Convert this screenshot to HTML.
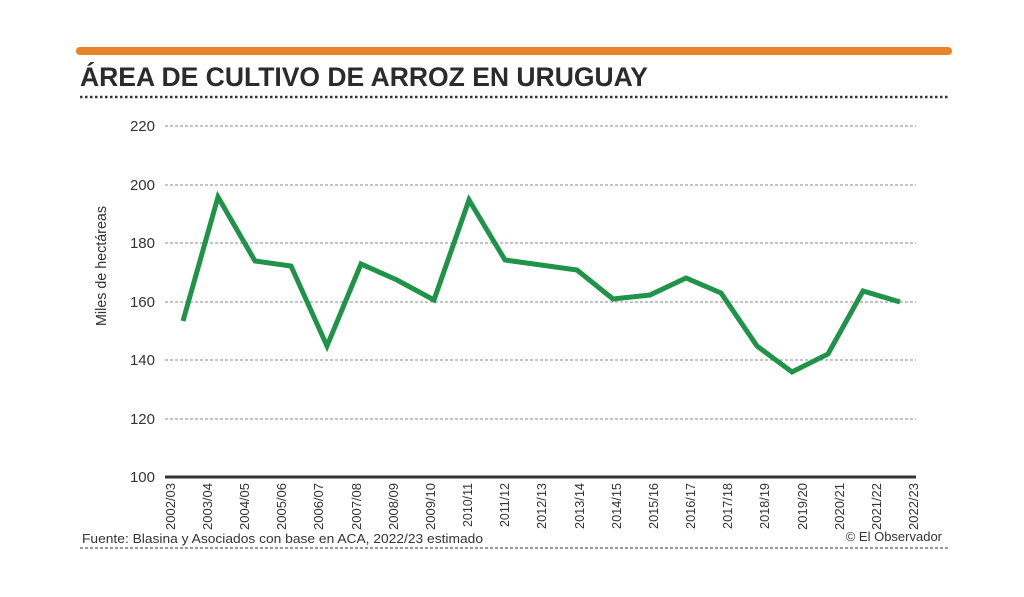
<!DOCTYPE html>
<html><head><meta charset="utf-8"><style>
body{margin:0;background:#fff;}
svg{display:block;font-family:"Liberation Sans",sans-serif;}
</style></head><body>
<svg width="1024" height="597" viewBox="0 0 1024 597">
<rect width="1024" height="597" fill="#fff"/>
<line x1="80" y1="51" x2="948" y2="51" stroke="#e8832a" stroke-width="8" stroke-linecap="round"/>
<text x="80" y="86" font-size="27" font-weight="bold" fill="#2b2b2b" textLength="568" lengthAdjust="spacingAndGlyphs">ÁREA DE CULTIVO DE ARROZ EN URUGUAY</text>
<line x1="80" y1="97" x2="948" y2="97" stroke="#333" stroke-width="2.5" stroke-dasharray="2.5,2.5"/>
<g stroke="#888" stroke-width="1" stroke-dasharray="3,2">
<line x1="165" y1="126" x2="916" y2="126"/>
<line x1="165" y1="185" x2="916" y2="185"/>
<line x1="165" y1="243" x2="916" y2="243"/>
<line x1="165" y1="302" x2="916" y2="302"/>
<line x1="165" y1="360" x2="916" y2="360"/>
<line x1="165" y1="419" x2="916" y2="419"/>
</g>
<line x1="165" y1="477" x2="916" y2="477" stroke="#333" stroke-width="3"/>
<g font-size="15" fill="#333" text-anchor="end">
<text x="155" y="131">220</text><text x="155" y="190">200</text><text x="155" y="248">180</text>
<text x="155" y="307">160</text><text x="155" y="365">140</text><text x="155" y="424">120</text><text x="155" y="482">100</text>
</g>
<text transform="translate(106,266) rotate(-90)" font-size="15" fill="#333" text-anchor="middle" textLength="120" lengthAdjust="spacingAndGlyphs">Miles de hectáreas</text>
<polyline fill="none" stroke="#1f9448" stroke-width="5" stroke-linejoin="miter" points="183,321 218,197 255,261 291,266 327,346 361,264 397,280 434,300 469,200 505,260 541,265 577,270 613,299 650,295 686,278 721,293 757,346 792,372 828,354 863,291 900,302"/>
<g font-size="13" fill="#333" text-anchor="end">
<text transform="translate(175,483) rotate(-90)" textLength="47" lengthAdjust="spacingAndGlyphs">2002/03</text>
<text transform="translate(212,483) rotate(-90)" textLength="47" lengthAdjust="spacingAndGlyphs">2003/04</text>
<text transform="translate(249,483) rotate(-90)" textLength="47" lengthAdjust="spacingAndGlyphs">2004/05</text>
<text transform="translate(286,483) rotate(-90)" textLength="47" lengthAdjust="spacingAndGlyphs">2005/06</text>
<text transform="translate(323,483) rotate(-90)" textLength="47" lengthAdjust="spacingAndGlyphs">2006/07</text>
<text transform="translate(361,483) rotate(-90)" textLength="47" lengthAdjust="spacingAndGlyphs">2007/08</text>
<text transform="translate(398,483) rotate(-90)" textLength="47" lengthAdjust="spacingAndGlyphs">2008/09</text>
<text transform="translate(435,483) rotate(-90)" textLength="47" lengthAdjust="spacingAndGlyphs">2009/10</text>
<text transform="translate(472,483) rotate(-90)" textLength="44" lengthAdjust="spacingAndGlyphs">2010/11</text>
<text transform="translate(509,483) rotate(-90)" textLength="44" lengthAdjust="spacingAndGlyphs">2011/12</text>
<text transform="translate(546,483) rotate(-90)" textLength="46" lengthAdjust="spacingAndGlyphs">2012/13</text>
<text transform="translate(584,483) rotate(-90)" textLength="46" lengthAdjust="spacingAndGlyphs">2013/14</text>
<text transform="translate(621,483) rotate(-90)" textLength="46" lengthAdjust="spacingAndGlyphs">2014/15</text>
<text transform="translate(658,483) rotate(-90)" textLength="46" lengthAdjust="spacingAndGlyphs">2015/16</text>
<text transform="translate(695,483) rotate(-90)" textLength="46" lengthAdjust="spacingAndGlyphs">2016/17</text>
<text transform="translate(732,483) rotate(-90)" textLength="46" lengthAdjust="spacingAndGlyphs">2017/18</text>
<text transform="translate(769,483) rotate(-90)" textLength="46" lengthAdjust="spacingAndGlyphs">2018/19</text>
<text transform="translate(807,483) rotate(-90)" textLength="47" lengthAdjust="spacingAndGlyphs">2019/20</text>
<text transform="translate(844,483) rotate(-90)" textLength="47" lengthAdjust="spacingAndGlyphs">2020/21</text>
<text transform="translate(881,483) rotate(-90)" textLength="47" lengthAdjust="spacingAndGlyphs">2021/22</text>
<text transform="translate(918,483) rotate(-90)" textLength="47" lengthAdjust="spacingAndGlyphs">2022/23</text>
</g>
<text x="82" y="543" font-size="13" fill="#333" textLength="401" lengthAdjust="spacingAndGlyphs">Fuente: Blasina y Asociados con base en ACA, 2022/23 estimado</text>
<text x="942" y="541" font-size="13" fill="#333" text-anchor="end">© El Observador</text>
<line x1="80" y1="548" x2="950" y2="548" stroke="#333" stroke-width="1" stroke-dasharray="3,2"/>
</svg>
</body></html>
